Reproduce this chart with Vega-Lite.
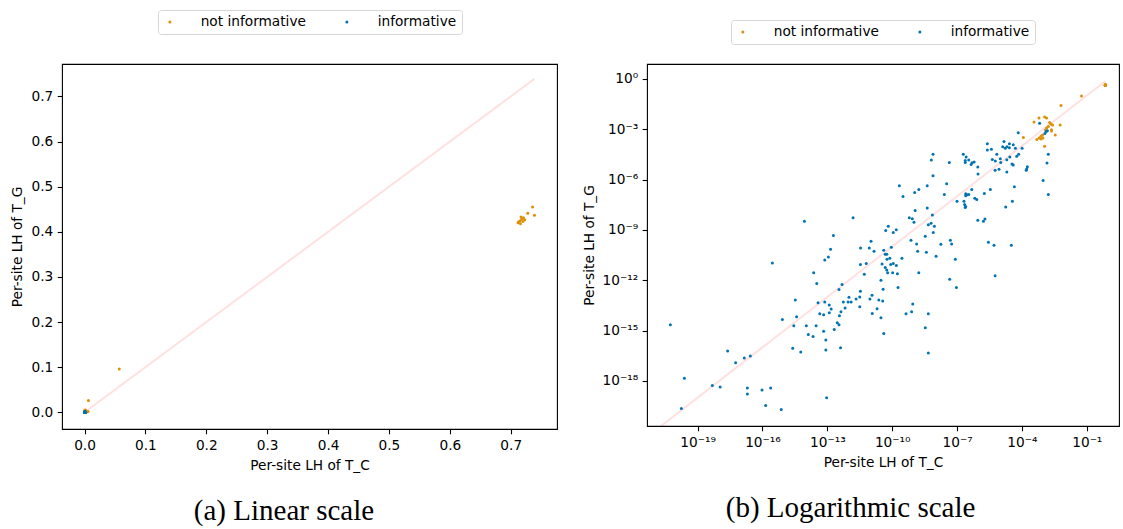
{
  "$schema": "https://vega.github.io/schema/vega-lite/v6.json",
  "background": "white",
  "padding": {"left": 10, "top": 8, "right": 2, "bottom": 0},
  "spacing": 23,
  "datasets": {
    "diag": [{"tc": 1e-23, "tg": 1e-23}, {"tc": 0.739, "tg": 0.739}],
    "pts": [
      {"tc": 0.736, "tg": 0.455, "type": "not informative"},
      {"tc": 0.728, "tg": 0.441, "type": "not informative"},
      {"tc": 0.739, "tg": 0.437, "type": "not informative"},
      {"tc": 0.712, "tg": 0.420, "type": "not informative"},
      {"tc": 0.715, "tg": 0.424, "type": "not informative"},
      {"tc": 0.716, "tg": 0.418, "type": "not informative"},
      {"tc": 0.718, "tg": 0.428, "type": "not informative"},
      {"tc": 0.720, "tg": 0.423, "type": "not informative"},
      {"tc": 0.721, "tg": 0.431, "type": "not informative"},
      {"tc": 0.723, "tg": 0.427, "type": "not informative"},
      {"tc": 0.713, "tg": 0.422, "type": "not informative"},
      {"tc": 0.717, "tg": 0.433, "type": "not informative"},
      {"tc": 0.057, "tg": 0.096, "type": "not informative"},
      {"tc": 0.0064, "tg": 0.026, "type": "not informative"},
      {"tc": 3.63e-4, "tg": 2.69e-3, "type": "not informative"},
      {"tc": 6.17e-4, "tg": 4.68e-3, "type": "not informative"},
      {"tc": 1.12e-3, "tg": 5.37e-3, "type": "not informative"},
      {"tc": 1.38e-3, "tg": 4.68e-3, "type": "not informative"},
      {"tc": 1.91e-3, "tg": 2.51e-3, "type": "not informative"},
      {"tc": 2.19e-3, "tg": 2.04e-3, "type": "not informative"},
      {"tc": 2.63e-3, "tg": 1.78e-3, "type": "not informative"},
      {"tc": 1.66e-3, "tg": 1.45e-3, "type": "not informative"},
      {"tc": 1.38e-3, "tg": 1.17e-3, "type": "not informative"},
      {"tc": 1.23e-3, "tg": 8.91e-4, "type": "not informative"},
      {"tc": 5.89e-3, "tg": 1.78e-3, "type": "not informative"},
      {"tc": 2.34e-3, "tg": 9.12e-4, "type": "not informative"},
      {"tc": 2.34e-3, "tg": 7.76e-4, "type": "not informative"},
      {"tc": 3.47e-3, "tg": 4.57e-4, "type": "not informative"},
      {"tc": 8.91e-4, "tg": 4.57e-4, "type": "not informative"},
      {"tc": 7.59e-4, "tg": 3.80e-4, "type": "not informative"},
      {"tc": 9.33e-4, "tg": 3.02e-4, "type": "not informative"},
      {"tc": 6.31e-4, "tg": 3.02e-4, "type": "not informative"},
      {"tc": 4.90e-4, "tg": 2.40e-4, "type": "not informative"},
      {"tc": 7.59e-4, "tg": 2.63e-4, "type": "not informative"},
      {"tc": 1.17e-4, "tg": 3.16e-4, "type": "not informative"},
      {"tc": 1.12e-3, "tg": 9.55e-5, "type": "not informative"},
      {"tc": 8.71e-15, "tg": 3.31e-9, "type": "informative"},
      {"tc": 1.91e-13, "tg": 4.68e-10, "type": "informative"},
      {"tc": 1.41e-13, "tg": 6.92e-11, "type": "informative"},
      {"tc": 7.59e-14, "tg": 1.62e-11, "type": "informative"},
      {"tc": 1.12e-13, "tg": 2.40e-11, "type": "informative"},
      {"tc": 2.88e-16, "tg": 1.07e-11, "type": "informative"},
      {"tc": 2.34e-14, "tg": 2.82e-12, "type": "informative"},
      {"tc": 3.24e-14, "tg": 6.46e-13, "type": "informative"},
      {"tc": 3.47e-13, "tg": 2.75e-13, "type": "informative"},
      {"tc": 3.31e-15, "tg": 6.61e-14, "type": "informative"},
      {"tc": 3.72e-14, "tg": 4.57e-14, "type": "informative"},
      {"tc": 7.59e-14, "tg": 5.01e-14, "type": "informative"},
      {"tc": 1.23e-13, "tg": 3.31e-14, "type": "informative"},
      {"tc": 1.51e-13, "tg": 1.91e-14, "type": "informative"},
      {"tc": 4.47e-14, "tg": 1.0e-14, "type": "informative"},
      {"tc": 6.76e-14, "tg": 8.71e-15, "type": "informative"},
      {"tc": 1.23e-13, "tg": 1.15e-14, "type": "informative"},
      {"tc": 3.80e-15, "tg": 6.61e-15, "type": "informative"},
      {"tc": 8.32e-16, "tg": 4.47e-15, "type": "informative"},
      {"tc": 3.63e-13, "tg": 7.59e-15, "type": "informative"},
      {"tc": 5.50e-21, "tg": 2.24e-15, "type": "informative"},
      {"tc": 2.82e-15, "tg": 1.95e-15, "type": "informative"},
      {"tc": 1.07e-14, "tg": 1.95e-15, "type": "informative"},
      {"tc": 3.02e-14, "tg": 1.95e-15, "type": "informative"},
      {"tc": 2.88e-13, "tg": 2.95e-15, "type": "informative"},
      {"tc": 3.47e-13, "tg": 2.24e-15, "type": "informative"},
      {"tc": 2.09e-13, "tg": 1.15e-15, "type": "informative"},
      {"tc": 6.76e-14, "tg": 8.91e-16, "type": "informative"},
      {"tc": 1.32e-14, "tg": 5.89e-16, "type": "informative"},
      {"tc": 2.19e-14, "tg": 4.47e-16, "type": "informative"},
      {"tc": 8.51e-14, "tg": 2.69e-16, "type": "informative"},
      {"tc": 2.51e-15, "tg": 8.91e-17, "type": "informative"},
      {"tc": 5.89e-15, "tg": 5.25e-17, "type": "informative"},
      {"tc": 8.51e-14, "tg": 6.92e-17, "type": "informative"},
      {"tc": 4.07e-13, "tg": 9.33e-17, "type": "informative"},
      {"tc": 2.45e-18, "tg": 6.03e-17, "type": "informative"},
      {"tc": 5.75e-18, "tg": 1.20e-17, "type": "informative"},
      {"tc": 1.45e-17, "tg": 2.29e-17, "type": "informative"},
      {"tc": 2.75e-17, "tg": 3.02e-17, "type": "informative"},
      {"tc": 2.45e-20, "tg": 1.45e-18, "type": "informative"},
      {"tc": 4.79e-19, "tg": 5.37e-19, "type": "informative"},
      {"tc": 1.10e-18, "tg": 4.37e-19, "type": "informative"},
      {"tc": 2.00e-17, "tg": 3.80e-19, "type": "informative"},
      {"tc": 2.00e-17, "tg": 1.66e-19, "type": "informative"},
      {"tc": 9.55e-17, "tg": 2.88e-19, "type": "informative"},
      {"tc": 2.40e-16, "tg": 3.80e-19, "type": "informative"},
      {"tc": 1.78e-20, "tg": 2.24e-20, "type": "informative"},
      {"tc": 1.41e-16, "tg": 3.39e-20, "type": "informative"},
      {"tc": 7.41e-16, "tg": 1.95e-20, "type": "informative"},
      {"tc": 9.33e-14, "tg": 9.77e-20, "type": "informative"},
      {"tc": 6.76e-5, "tg": 6.17e-4, "type": "informative"},
      {"tc": 1.48e-5, "tg": 1.82e-4, "type": "informative"},
      {"tc": 2.63e-5, "tg": 1.38e-4, "type": "informative"},
      {"tc": 2.51e-6, "tg": 1.38e-4, "type": "informative"},
      {"tc": 3.98e-5, "tg": 1.20e-4, "type": "informative"},
      {"tc": 1.29e-5, "tg": 9.12e-5, "type": "informative"},
      {"tc": 2.04e-5, "tg": 9.12e-5, "type": "informative"},
      {"tc": 2.63e-5, "tg": 7.94e-5, "type": "informative"},
      {"tc": 1.70e-5, "tg": 7.24e-5, "type": "informative"},
      {"tc": 5.01e-5, "tg": 7.24e-5, "type": "informative"},
      {"tc": 1.02e-4, "tg": 7.24e-5, "type": "informative"},
      {"tc": 2.51e-6, "tg": 5.75e-5, "type": "informative"},
      {"tc": 3.89e-6, "tg": 6.31e-5, "type": "informative"},
      {"tc": 6.92e-6, "tg": 3.16e-5, "type": "informative"},
      {"tc": 7.08e-5, "tg": 3.16e-5, "type": "informative"},
      {"tc": 5.75e-5, "tg": 2.40e-5, "type": "informative"},
      {"tc": 1.66e-3, "tg": 3.16e-5, "type": "informative"},
      {"tc": 4.27e-6, "tg": 1.58e-5, "type": "informative"},
      {"tc": 5.89e-6, "tg": 1.26e-5, "type": "informative"},
      {"tc": 1.0e-5, "tg": 1.74e-5, "type": "informative"},
      {"tc": 1.05e-5, "tg": 1.05e-5, "type": "informative"},
      {"tc": 2.00e-5, "tg": 1.51e-5, "type": "informative"},
      {"tc": 2.75e-5, "tg": 2.19e-5, "type": "informative"},
      {"tc": 3.47e-5, "tg": 8.32e-6, "type": "informative"},
      {"tc": 3.98e-5, "tg": 7.24e-6, "type": "informative"},
      {"tc": 1.78e-4, "tg": 5.75e-6, "type": "informative"},
      {"tc": 1.66e-4, "tg": 4.27e-6, "type": "informative"},
      {"tc": 1.58e-4, "tg": 3.63e-6, "type": "informative"},
      {"tc": 8.71e-6, "tg": 4.17e-6, "type": "informative"},
      {"tc": 5.75e-6, "tg": 3.63e-6, "type": "informative"},
      {"tc": 2.00e-5, "tg": 2.82e-6, "type": "informative"},
      {"tc": 1.45e-3, "tg": 9.55e-6, "type": "informative"},
      {"tc": 1.95e-7, "tg": 3.16e-5, "type": "informative"},
      {"tc": 2.63e-7, "tg": 2.19e-5, "type": "informative"},
      {"tc": 2.40e-7, "tg": 1.38e-5, "type": "informative"},
      {"tc": 3.47e-7, "tg": 1.45e-5, "type": "informative"},
      {"tc": 2.40e-7, "tg": 1.05e-5, "type": "informative"},
      {"tc": 6.17e-7, "tg": 1.10e-5, "type": "informative"},
      {"tc": 4.90e-7, "tg": 1.0e-5, "type": "informative"},
      {"tc": 4.47e-7, "tg": 7.94e-6, "type": "informative"},
      {"tc": 9.12e-7, "tg": 5.50e-6, "type": "informative"},
      {"tc": 7.76e-9, "tg": 3.16e-5, "type": "informative"},
      {"tc": 6.46e-9, "tg": 1.45e-5, "type": "informative"},
      {"tc": 4.37e-8, "tg": 1.05e-5, "type": "informative"},
      {"tc": 9.33e-7, "tg": 2.14e-6, "type": "informative"},
      {"tc": 7.76e-9, "tg": 1.70e-6, "type": "informative"},
      {"tc": 9.55e-4, "tg": 8.71e-7, "type": "informative"},
      {"tc": 1.66e-3, "tg": 1.29e-7, "type": "informative"},
      {"tc": 4.47e-5, "tg": 3.72e-7, "type": "informative"},
      {"tc": 3.31e-8, "tg": 5.62e-7, "type": "informative"},
      {"tc": 4.17e-9, "tg": 4.27e-7, "type": "informative"},
      {"tc": 2.14e-10, "tg": 4.27e-7, "type": "informative"},
      {"tc": 1.70e-9, "tg": 2.57e-7, "type": "informative"},
      {"tc": 1.10e-9, "tg": 1.70e-7, "type": "informative"},
      {"tc": 3.16e-10, "tg": 9.77e-8, "type": "informative"},
      {"tc": 2.57e-8, "tg": 1.29e-7, "type": "informative"},
      {"tc": 4.79e-7, "tg": 2.57e-7, "type": "informative"},
      {"tc": 2.51e-7, "tg": 1.41e-7, "type": "informative"},
      {"tc": 2.88e-7, "tg": 1.23e-7, "type": "informative"},
      {"tc": 2.51e-7, "tg": 1.07e-7, "type": "informative"},
      {"tc": 3.47e-7, "tg": 1.29e-7, "type": "informative"},
      {"tc": 1.82e-6, "tg": 1.48e-7, "type": "informative"},
      {"tc": 3.47e-6, "tg": 2.57e-7, "type": "informative"},
      {"tc": 6.61e-7, "tg": 7.76e-8, "type": "informative"},
      {"tc": 8.13e-7, "tg": 6.46e-8, "type": "informative"},
      {"tc": 1.0e-7, "tg": 5.13e-8, "type": "informative"},
      {"tc": 2.09e-7, "tg": 5.13e-8, "type": "informative"},
      {"tc": 2.24e-7, "tg": 3.24e-8, "type": "informative"},
      {"tc": 2.51e-7, "tg": 2.51e-8, "type": "informative"},
      {"tc": 2.40e-7, "tg": 2.14e-8, "type": "informative"},
      {"tc": 3.63e-5, "tg": 5.13e-8, "type": "informative"},
      {"tc": 1.78e-5, "tg": 2.34e-8, "type": "informative"},
      {"tc": 4.17e-9, "tg": 2.04e-8, "type": "informative"},
      {"tc": 1.15e-9, "tg": 1.45e-8, "type": "informative"},
      {"tc": 7.24e-9, "tg": 7.76e-9, "type": "informative"},
      {"tc": 6.17e-10, "tg": 5.25e-9, "type": "informative"},
      {"tc": 8.51e-10, "tg": 4.57e-9, "type": "informative"},
      {"tc": 1.02e-9, "tg": 2.88e-9, "type": "informative"},
      {"tc": 9.12e-7, "tg": 3.80e-9, "type": "informative"},
      {"tc": 1.66e-6, "tg": 3.31e-9, "type": "informative"},
      {"tc": 1.95e-6, "tg": 4.37e-9, "type": "informative"},
      {"tc": 6.31e-9, "tg": 2.51e-9, "type": "informative"},
      {"tc": 4.68e-9, "tg": 2.00e-9, "type": "informative"},
      {"tc": 8.91e-9, "tg": 1.66e-9, "type": "informative"},
      {"tc": 6.61e-11, "tg": 1.66e-9, "type": "informative"},
      {"tc": 5.01e-11, "tg": 9.12e-10, "type": "informative"},
      {"tc": 1.12e-10, "tg": 6.92e-10, "type": "informative"},
      {"tc": 1.55e-10, "tg": 1.0e-9, "type": "informative"},
      {"tc": 7.94e-9, "tg": 6.92e-10, "type": "informative"},
      {"tc": 3.39e-9, "tg": 4.17e-10, "type": "informative"},
      {"tc": 1.55e-12, "tg": 5.25e-9, "type": "informative"},
      {"tc": 7.41e-10, "tg": 2.40e-10, "type": "informative"},
      {"tc": 1.35e-9, "tg": 1.45e-10, "type": "informative"},
      {"tc": 4.90e-8, "tg": 2.40e-10, "type": "informative"},
      {"tc": 5.62e-8, "tg": 1.45e-10, "type": "informative"},
      {"tc": 1.78e-8, "tg": 1.38e-10, "type": "informative"},
      {"tc": 1.05e-11, "tg": 2.09e-10, "type": "informative"},
      {"tc": 3.47e-12, "tg": 8.32e-11, "type": "informative"},
      {"tc": 8.71e-12, "tg": 8.32e-11, "type": "informative"},
      {"tc": 1.45e-11, "tg": 5.37e-11, "type": "informative"},
      {"tc": 4.07e-11, "tg": 6.03e-11, "type": "informative"},
      {"tc": 4.79e-11, "tg": 3.55e-11, "type": "informative"},
      {"tc": 5.62e-11, "tg": 3.55e-11, "type": "informative"},
      {"tc": 9.12e-11, "tg": 9.12e-11, "type": "informative"},
      {"tc": 1.51e-9, "tg": 5.37e-11, "type": "informative"},
      {"tc": 3.80e-9, "tg": 4.68e-11, "type": "informative"},
      {"tc": 1.07e-8, "tg": 2.69e-11, "type": "informative"},
      {"tc": 2.82e-6, "tg": 1.82e-10, "type": "informative"},
      {"tc": 5.13e-6, "tg": 1.20e-10, "type": "informative"},
      {"tc": 3.24e-5, "tg": 1.20e-10, "type": "informative"},
      {"tc": 5.75e-11, "tg": 1.78e-11, "type": "informative"},
      {"tc": 7.76e-11, "tg": 2.04e-11, "type": "informative"},
      {"tc": 2.82e-10, "tg": 2.04e-11, "type": "informative"},
      {"tc": 8.32e-8, "tg": 1.78e-11, "type": "informative"},
      {"tc": 6.61e-4, "tg": 2.29e-3, "type": "informative"},
      {"tc": 1.32e-3, "tg": 7.41e-4, "type": "informative"},
      {"tc": 1.51e-3, "tg": 8.13e-4, "type": "informative"},
      {"tc": 1.15e-3, "tg": 5.50e-4, "type": "informative"},
      {"tc": 3.39e-12, "tg": 8.51e-12, "type": "informative"},
      {"tc": 6.31e-12, "tg": 9.77e-12, "type": "informative"},
      {"tc": 3.39e-11, "tg": 9.33e-12, "type": "informative"},
      {"tc": 8.51e-11, "tg": 8.51e-12, "type": "informative"},
      {"tc": 1.12e-10, "tg": 9.77e-12, "type": "informative"},
      {"tc": 1.55e-10, "tg": 7.41e-12, "type": "informative"},
      {"tc": 4.79e-11, "tg": 5.62e-12, "type": "informative"},
      {"tc": 5.62e-11, "tg": 4.07e-12, "type": "informative"},
      {"tc": 6.17e-11, "tg": 2.82e-12, "type": "informative"},
      {"tc": 1.05e-10, "tg": 2.82e-12, "type": "informative"},
      {"tc": 1.74e-10, "tg": 2.45e-12, "type": "informative"},
      {"tc": 5.13e-12, "tg": 2.24e-12, "type": "informative"},
      {"tc": 1.70e-9, "tg": 2.82e-12, "type": "informative"},
      {"tc": 4.57e-8, "tg": 1.12e-12, "type": "informative"},
      {"tc": 9.33e-8, "tg": 3.63e-13, "type": "informative"},
      {"tc": 5.75e-6, "tg": 1.86e-12, "type": "informative"},
      {"tc": 3.02e-11, "tg": 9.77e-13, "type": "informative"},
      {"tc": 1.86e-10, "tg": 3.63e-13, "type": "informative"},
      {"tc": 4.79e-13, "tg": 5.50e-13, "type": "informative"},
      {"tc": 3.80e-11, "tg": 2.88e-13, "type": "informative"},
      {"tc": 3.39e-12, "tg": 2.19e-13, "type": "informative"},
      {"tc": 3.16e-12, "tg": 1.0e-13, "type": "informative"},
      {"tc": 1.17e-11, "tg": 1.26e-13, "type": "informative"},
      {"tc": 9.33e-12, "tg": 7.59e-14, "type": "informative"},
      {"tc": 2.14e-12, "tg": 7.59e-14, "type": "informative"},
      {"tc": 1.0e-12, "tg": 9.55e-14, "type": "informative"},
      {"tc": 9.12e-13, "tg": 5.01e-14, "type": "informative"},
      {"tc": 1.26e-12, "tg": 5.01e-14, "type": "informative"},
      {"tc": 5.50e-13, "tg": 5.01e-14, "type": "informative"},
      {"tc": 2.40e-11, "tg": 6.61e-14, "type": "informative"},
      {"tc": 3.63e-11, "tg": 5.75e-14, "type": "informative"},
      {"tc": 6.61e-13, "tg": 2.19e-14, "type": "informative"},
      {"tc": 3.16e-12, "tg": 2.63e-14, "type": "informative"},
      {"tc": 2.00e-11, "tg": 2.00e-14, "type": "informative"},
      {"tc": 4.27e-13, "tg": 1.32e-14, "type": "informative"},
      {"tc": 1.20e-11, "tg": 1.02e-14, "type": "informative"},
      {"tc": 3.02e-11, "tg": 5.75e-15, "type": "informative"},
      {"tc": 8.91e-10, "tg": 3.80e-14, "type": "informative"},
      {"tc": 4.37e-10, "tg": 1.0e-14, "type": "informative"},
      {"tc": 7.94e-10, "tg": 1.32e-14, "type": "informative"},
      {"tc": 4.68e-9, "tg": 1.0e-14, "type": "informative"},
      {"tc": 4.07e-11, "tg": 6.76e-16, "type": "informative"},
      {"tc": 3.39e-9, "tg": 1.48e-15, "type": "informative"},
      {"tc": 4.68e-9, "tg": 4.57e-17, "type": "informative"}
    ]
  },
  "resolve": {"scale": {"x": "independent", "y": "independent", "color": "independent"}, "legend": {"color": "independent"}},
  "hconcat": [
    {
      "width": 495,
      "height": 365,
      "title": {"text": "(a) Linear scale", "orient": "bottom", "anchor": "middle", "frame": "bounds", "font": "Liberation Serif", "fontSize": 29, "fontWeight": "normal", "color": "black", "offset": 25},
      "layer": [
        {
          "data": {"name": "diag"},
          "mark": {"type": "line", "stroke": "#ff0000", "strokeOpacity": 0.12, "strokeWidth": 2, "clip": true},
          "encoding": {
            "x": {"field": "tc", "type": "quantitative", "scale": {"domain": [-0.037, 0.776], "nice": false, "zero": false}, "axis": {"values": [0, 0.1, 0.2, 0.3, 0.4, 0.5, 0.6, 0.7], "format": ".1f", "title": "Per-site LH of T_C"}},
            "y": {"field": "tg", "type": "quantitative", "scale": {"domain": [-0.037, 0.772], "nice": false, "zero": false}, "axis": {"values": [0, 0.1, 0.2, 0.3, 0.4, 0.5, 0.6, 0.7], "format": ".1f", "title": "Per-site LH of T_G"}}
          }
        },
        {
          "data": {"name": "pts"},
          "mark": {"type": "circle", "size": 9, "opacity": 1, "clip": true},
          "encoding": {
            "x": {"field": "tc", "type": "quantitative"},
            "y": {"field": "tg", "type": "quantitative"},
            "color": {"field": "type", "type": "nominal", "scale": {"domain": ["not informative", "informative"], "range": ["#de8f05", "#0173b2"]}, "legend": {"title": null, "orient": "top", "direction": "horizontal", "offset": 30}}
          }
        }
      ]
    },
    {
      "width": 472,
      "height": 362,
      "title": {"text": "(b) Logarithmic scale", "orient": "bottom", "anchor": "middle", "frame": "bounds", "font": "Liberation Serif", "fontSize": 29, "fontWeight": "normal", "color": "black", "offset": 25},
      "layer": [
        {
          "data": {"name": "diag"},
          "mark": {"type": "line", "stroke": "#ff0000", "strokeOpacity": 0.12, "strokeWidth": 2, "clip": true},
          "encoding": {
            "x": {"field": "tc", "type": "quantitative", "scale": {"type": "log", "domain": [4.57e-22, 3.09], "nice": false}, "axis": {"values": [1e-19, 1e-16, 1e-13, 1e-10, 1e-7, 1e-4, 1e-1], "labelExpr": "'10' + replace(replace(replace(replace(replace(replace(replace(replace(replace(replace(replace('' + round(log(datum.value)/LN10), '-', '⁻'), '0', '⁰'), '1', '¹'), '2', '²'), '3', '³'), '4', '⁴'), '5', '⁵'), '6', '⁶'), '7', '⁷'), '8', '⁸'), '9', '⁹')", "title": "Per-site LH of T_C"}},
            "y": {"field": "tg", "type": "quantitative", "scale": {"type": "log", "domain": [2.04e-21, 7.69], "nice": false}, "axis": {"values": [1, 1e-3, 1e-6, 1e-9, 1e-12, 1e-15, 1e-18], "labelExpr": "'10' + replace(replace(replace(replace(replace(replace(replace(replace(replace(replace(replace('' + round(log(datum.value)/LN10), '-', '⁻'), '0', '⁰'), '1', '¹'), '2', '²'), '3', '³'), '4', '⁴'), '5', '⁵'), '6', '⁶'), '7', '⁷'), '8', '⁸'), '9', '⁹')", "title": "Per-site LH of T_G"}}
          }
        },
        {
          "data": {"name": "pts"},
          "mark": {"type": "circle", "size": 9, "opacity": 1, "clip": true},
          "encoding": {
            "x": {"field": "tc", "type": "quantitative"},
            "y": {"field": "tg", "type": "quantitative"},
            "color": {"field": "type", "type": "nominal", "scale": {"domain": ["not informative", "informative"], "range": ["#de8f05", "#0173b2"]}, "legend": {"title": null, "orient": "top", "direction": "horizontal", "offset": 20}}
          }
        }
      ]
    }
  ],
  "config": {
    "font": "DejaVu Sans",
    "view": {"stroke": "black", "strokeWidth": 1.1},
    "axis": {"domain": false, "grid": false, "ticks": true, "tickColor": "black", "tickSize": 4.8, "tickWidth": 1.1, "labelFont": "DejaVu Sans", "labelFontSize": 13.7, "labelColor": "black", "labelPadding": 4.5, "titleFont": "DejaVu Sans", "titleFontSize": 13.7, "titleFontWeight": "normal", "titleColor": "black", "titlePadding": 6},
    "legend": {"labelFont": "DejaVu Sans", "labelFontSize": 13.7, "labelColor": "black", "symbolType": "circle", "symbolSize": 9, "symbolStrokeWidth": 0, "strokeColor": "#d6d6d6", "cornerRadius": 3, "padding": 5, "columnPadding": 34, "labelOffset": 24, "symbolOffset": 0, "layout": {"top": {"anchor": "middle"}}}
  }
}
